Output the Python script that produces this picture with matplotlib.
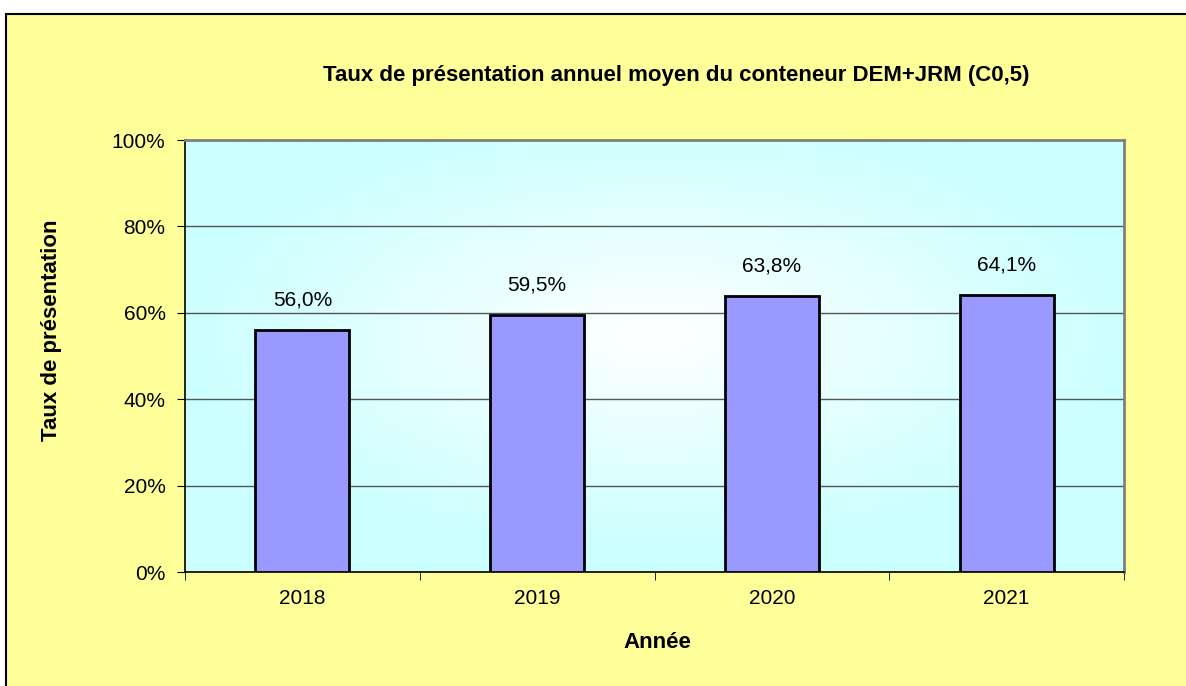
import numpy as np
import matplotlib.pyplot as plt
from matplotlib.patches import Rectangle
from matplotlib.ticker import FixedLocator

# Données
annees = ["2018", "2019", "2020", "2021"]
taux = [56.0, 59.5, 63.8, 64.1]
graduations = [0, 20, 40, 60, 80, 100]

plt.rcParams['font.family'] = ['Liberation Sans', 'DejaVu Sans']

fig = plt.figure(figsize=(11.86, 6.86), dpi=100, facecolor='white')

# Fond jaune du graphique
fond = Rectangle((6 / 1186, -0.01), 1.01, 1 + 0.01 - 14 / 686, transform=fig.transFigure,
                 facecolor='#FFFF99', edgecolor='black', linewidth=1.5, zorder=-5)
fig.patches.append(fond)

ax = fig.add_axes([185 / 1186, 1 - 572 / 686, (1124 - 185) / 1186, (572 - 140) / 686])
ax.set_zorder(1)

# Dégradé radial de la zone de tracé
ny, nx = 200, 400
yy, xx = np.mgrid[0:ny, 0:nx]
r = np.sqrt(((xx - nx * 0.5) / (nx * 0.5)) ** 2 + ((yy - ny * 0.45) / (ny * 0.5)) ** 2)
r = np.clip(r / 1.0, 0, 1)
c0 = np.array([1.0, 1.0, 1.0])
c1 = np.array([0.80, 1.0, 1.0])
img = c0[None, None, :] + (c1 - c0)[None, None, :] * r[:, :, None]
ax.imshow(img, extent=[-0.5, 3.5, 0, 100], aspect='auto', zorder=0, interpolation='bilinear')

x = np.arange(len(annees))
barres = ax.bar(x, taux, width=0.4, color='#9999FF', edgecolor='black', linewidth=2, zorder=3)

for xi, v in zip(x, taux):
    ax.annotate(f"{v:.1f}%".replace('.', ','), (xi, v), xytext=(0, 15), textcoords='offset points',
                ha='center', va='bottom', fontsize=15, zorder=4)

ax.set_xlim(-0.5, 3.5)
ax.set_ylim(0, 100)
ax.set_yticks(graduations)
ax.set_yticklabels([f"{g}%" for g in graduations], fontsize=15)
ax.set_xticks(x)
ax.set_xticklabels(annees, fontsize=15)
ax.xaxis.set_minor_locator(FixedLocator(np.arange(-0.5, 4, 1)))
ax.tick_params(axis='x', which='major', length=0, pad=12)
ax.tick_params(axis='x', which='minor', length=6, direction='out', color='black')
ax.tick_params(axis='y', length=6, direction='out', color='black', pad=8)

ax.yaxis.grid(True, color='#555555', linewidth=1, zorder=1)
ax.set_axisbelow(True)

for cote in ['top', 'right']:
    ax.spines[cote].set_color('#808080')
    ax.spines[cote].set_linewidth(2)
for cote in ['left', 'bottom']:
    ax.spines[cote].set_color('black')
    ax.spines[cote].set_linewidth(1.2)

fig.text(676 / 1186, 1 - 75 / 686, "Taux de présentation annuel moyen du conteneur DEM+JRM (C0,5)",
         ha='center', va='center', fontsize=16, fontweight='bold')
fig.text(657 / 1186, 1 - 643 / 686, "Année", ha='center', va='center', fontsize=16, fontweight='bold')
fig.text(52 / 1186, 1 - 330 / 686, "Taux de présentation", ha='center', va='center',
         rotation=90, fontsize=16, fontweight='bold')

fig.savefig("out.png", dpi=100, facecolor='white')
